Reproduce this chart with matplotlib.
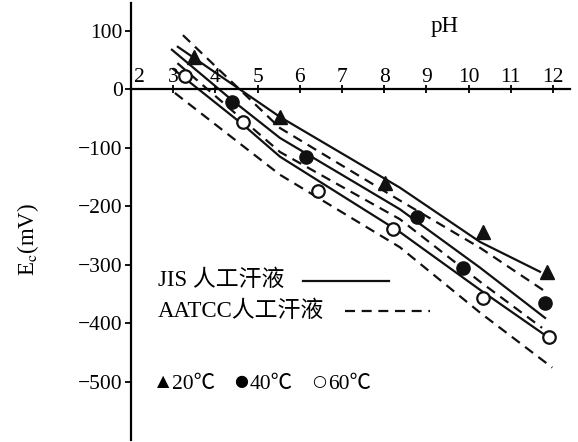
import matplotlib
matplotlib.use('Agg')
import matplotlib.pyplot as plt

plt.rcParams['font.family'] = ['Liberation Serif', 'Noto Sans CJK SC', 'DejaVu Sans']
plt.rcParams['mathtext.fontset'] = 'stix'

# 曲线 (pH, Ec mV) - 实线 JIS, 虚线 AATCC
jis20_ph = [3.11, 5.53, 8.37, 10.27, 11.69]
jis20_mv = [73, -47, -168, -261, -312]
aatcc20_ph = [3.23, 5.53, 8.37, 10.27, 11.86]
aatcc20_mv = [93, -66, -190, -271, -348]
jis40_ph = [2.97, 4.39, 5.53, 8.37, 10.27, 11.81]
jis40_mv = [68, -18, -83, -205, -305, -391]
aatcc40_ph = [3.10, 5.53, 8.37, 10.27, 11.74]
aatcc40_mv = [45, -107, -222, -329, -408]
jis60_ph = [3.00, 4.65, 5.53, 8.37, 10.27, 11.88]
jis60_mv = [35, -60, -115, -244, -343, -424]
aatcc60_ph = [3.04, 5.53, 8.37, 10.27, 11.98]
aatcc60_mv = [-6, -146, -270, -382, -476]

# 测定点
tri_ph = [3.49, 5.53, 8.02, 10.34, 11.86]
tri_mv = [56, -47, -160, -244, -312]
dot_ph = [4.39, 6.15, 8.78, 9.87, 11.81]
dot_mv = [-21, -115, -218, -305, -365]
ring_ph = [3.28, 4.65, 6.43, 8.21, 10.34, 11.90]
ring_mv = [23, -56, -174, -239, -357, -423]

x_ticks = [2, 3, 4, 5, 6, 7, 8, 9, 10, 11, 12]
y_ticks = [100, 0, -100, -200, -300, -400, -500]
y_labels = ['100', '0', '−100', '−200', '−300', '−400', '−500']
temp_labels = ['20℃', '40℃', '60℃']
temp_syms = ['▲', '●', '○']

FS = 15.5
K = '#111111'
dash = (0, (4.5, 3))

fig = plt.figure(figsize=(5.78, 4.42), dpi=100)
ax = fig.add_axes([0.2266, 0.0045, 0.7595, 0.9887])
ax.set_xlim(2, 12.40)
ax.set_ylim(-600, 148)

lw = 1.6
ax.plot(jis20_ph, jis20_mv, color=K, lw=lw)
ax.plot(aatcc20_ph, aatcc20_mv, color=K, lw=lw, linestyle=dash)
ax.plot(jis40_ph, jis40_mv, color=K, lw=lw)
ax.plot(aatcc40_ph, aatcc40_mv, color=K, lw=lw, linestyle=dash)
ax.plot(jis60_ph, jis60_mv, color=K, lw=lw)
ax.plot(aatcc60_ph, aatcc60_mv, color=K, lw=lw, linestyle=dash)

ax.plot(tri_ph, tri_mv, linestyle='none', marker='^', ms=10, color=K)
ax.plot(dot_ph, dot_mv, linestyle='none', marker='o', ms=9.5, color=K)
ax.plot(ring_ph, ring_mv, linestyle='none', marker='o', ms=9, mfc='white', mec=K, mew=1.6)

# 坐标轴
for s in ['top', 'right']:
    ax.spines[s].set_visible(False)
ax.spines['bottom'].set_position(('data', 0))
ax.spines['left'].set_linewidth(1.6)
ax.spines['bottom'].set_linewidth(1.6)

ax.set_xticks(x_ticks)
ax.tick_params(axis='x', direction='inout', length=6, width=1.3, labelbottom=False)
for t in x_ticks:
    xt = 2.19 if t == 2 else t
    ax.text(xt, 12, str(t), ha='center', va='baseline', fontsize=FS)

ax.set_yticks(y_ticks)
ax.set_yticklabels(y_labels, fontsize=FS)
ax.tick_params(axis='y', direction='out', length=4, width=1.3, pad=2)

ax.text(9.44, 107, 'pH', ha='center', va='center', fontsize=FS + 1)
ax.set_ylabel(r'E$_\mathrm{c}$(mV)', fontsize=FS + 1)
ax.yaxis.set_label_coords(-0.205, 0.458)

# 图例
LFS = 16.5
ax.text(2.64, -327, 'JIS 人工汗液', ha='left', va='center', fontsize=LFS)
ax.plot([6.08, 8.11], [-327, -327], color=K, lw=lw)
ax.text(2.64, -380, 'AATCC人工汗液', ha='left', va='center', fontsize=LFS)
ax.plot([7.07, 9.09], [-380, -380], color=K, lw=lw, linestyle=dash)
sym_x = [2.62, 4.44, 6.29]
lab_x = [2.97, 4.80, 6.66]
for sx, lx, sym, lab in zip(sym_x, lab_x, temp_syms, temp_labels):
    ax.text(sx, -500, sym, ha='left', va='center', fontsize=FS - 4, family='DejaVu Sans')
    ax.text(lx, -505, lab, ha='left', va='center', fontsize=FS,
            family=['Liberation Serif', 'Noto Sans CJK SC'])

fig.savefig('out.png', dpi=100)
